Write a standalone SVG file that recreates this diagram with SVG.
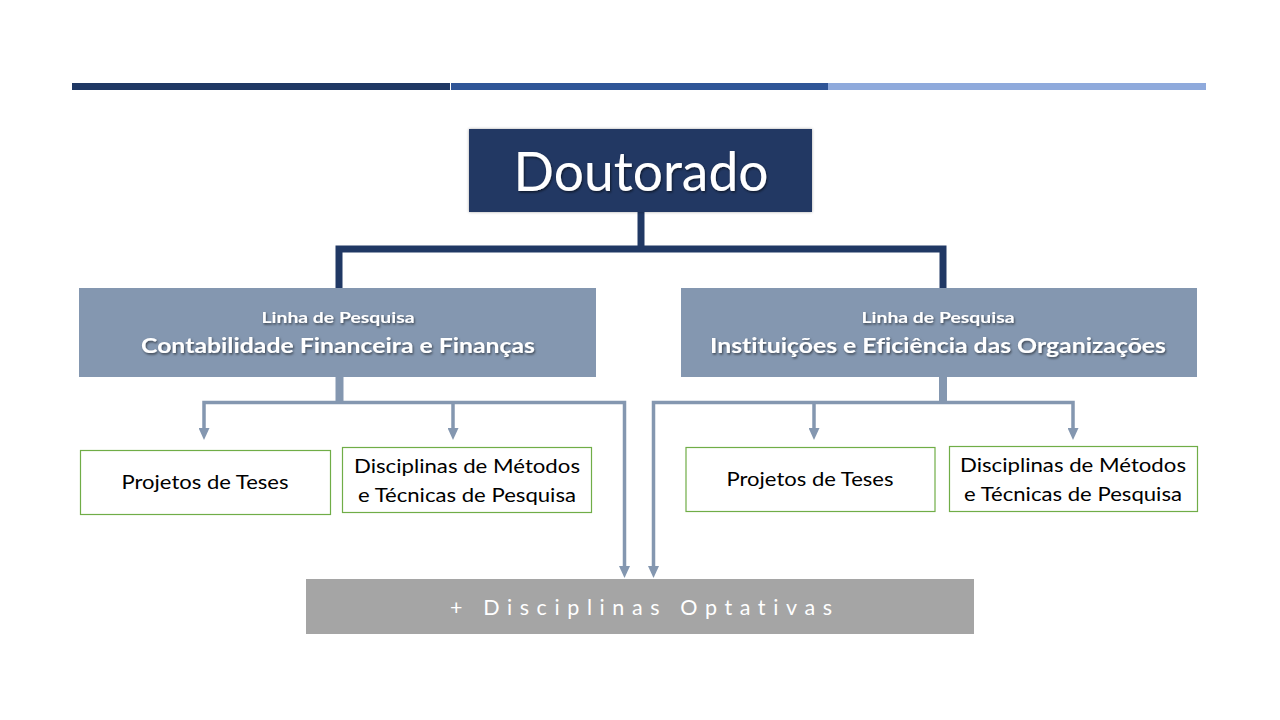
<svg xmlns="http://www.w3.org/2000/svg" width="1280" height="720" viewBox="0 0 1280 720">
  <defs>
    <filter id="tshadow" x="-10%" y="-30%" width="120%" height="160%">
      <feDropShadow dx="1" dy="1.5" stdDeviation="0.8" flood-color="#000" flood-opacity="0.55"/>
    </filter>
    <filter id="bshadow" x="-5%" y="-10%" width="110%" height="120%">
      <feDropShadow dx="0" dy="0" stdDeviation="1.5" flood-color="#000" flood-opacity="0.35"/>
    </filter>
    <marker id="arr" markerUnits="userSpaceOnUse" markerWidth="12" markerHeight="11" viewBox="0 0 12 11" refX="4" refY="5.5" orient="auto-start-reverse">
      <path d="M0,0 L12,5.5 L0,11 Z" fill="#8497B0"/>
    </marker>
  </defs>
  <style>
    .dark { fill: #203864; }
    .linha { fill: #8497B0; }
    .green { fill: #FFFFFF; stroke: #70AD47; stroke-width: 1.2; }
    .t { font-family: Lato, "Open Sans", "Noto Sans", sans-serif; text-anchor: middle; font-variant-ligatures: none; }
    .w { fill: #FFFFFF; }
    .k { fill: #000000; }
    .main { stroke: #203864; stroke-width: 7; fill: none; stroke-linejoin: miter; }
    .stem { stroke: #8497B0; stroke-width: 8; fill: none; }
    .sub { stroke: #8497B0; stroke-width: 3.5; fill: none; stroke-linejoin: miter; }
  </style>

  <rect width="1280" height="720" fill="#FFFFFF"/>

  <g id="topbar">
    <rect x="72" y="83" width="378" height="7" fill="#1F3864"/>
    <rect x="451" y="83" width="377" height="7" fill="#2F5597"/>
    <rect x="828" y="83" width="378" height="7" fill="#8FAADC"/>
  </g>

  <g id="connectors">
    <path class="main" d="M641,212 V249"/>
    <path class="main" d="M339,288 V249 H943 V288"/>
    <path class="stem" d="M339.5,377 V404"/>
    <path class="stem" d="M943,377 V404"/>
    <path class="sub" d="M204,432 V402.5 H624.5 V570" marker-start="url(#arr)" marker-end="url(#arr)"/>
    <path class="sub" d="M453,402.5 V432" marker-end="url(#arr)"/>
    <path class="sub" d="M653.5,570 V402.5 H1073 V432" marker-start="url(#arr)" marker-end="url(#arr)"/>
    <path class="sub" d="M814,402.5 V432" marker-end="url(#arr)"/>
  </g>

  <g id="doutorado">
    <rect class="dark" x="469" y="129" width="343" height="83" filter="url(#bshadow)"/>
    <text class="t w" x="641" y="191" font-size="54" textLength="255" lengthAdjust="spacingAndGlyphs" filter="url(#tshadow)">Doutorado</text>
  </g>

  <g id="linha1">
    <rect class="linha" x="79" y="288" width="517" height="89"/>
    <text class="t w" x="338" y="323" font-size="14.5" font-weight="bold" textLength="153" lengthAdjust="spacingAndGlyphs" filter="url(#tshadow)">Linha de Pesquisa</text>
    <text class="t w" x="338" y="353" font-size="21.5" font-weight="bold" textLength="394" lengthAdjust="spacingAndGlyphs" filter="url(#tshadow)">Contabilidade Financeira e Finanças</text>
  </g>

  <g id="linha2">
    <rect class="linha" x="681" y="288" width="516" height="89"/>
    <text class="t w" x="938" y="323" font-size="14.5" font-weight="bold" textLength="153" lengthAdjust="spacingAndGlyphs" filter="url(#tshadow)">Linha de Pesquisa</text>
    <text class="t w" x="938" y="353" font-size="21.5" font-weight="bold" textLength="456" lengthAdjust="spacingAndGlyphs" filter="url(#tshadow)">Instituições e Eficiência das Organizações</text>
  </g>

  <g id="projetos1">
    <rect class="green" x="80.5" y="450.5" width="250" height="64"/>
    <text class="t k" x="205" y="489" font-size="18.5" textLength="167" lengthAdjust="spacingAndGlyphs">Projetos de Teses</text>
  </g>

  <g id="metodos1">
    <rect class="green" x="342.5" y="447.5" width="249" height="65"/>
    <text class="t k" x="467" y="473" font-size="18.5" textLength="226" lengthAdjust="spacingAndGlyphs">Disciplinas de Métodos</text>
    <text class="t k" x="467" y="502" font-size="18.5" textLength="218" lengthAdjust="spacingAndGlyphs">e Técnicas de Pesquisa</text>
  </g>

  <g id="projetos2">
    <rect class="green" x="686" y="447.5" width="249" height="64"/>
    <text class="t k" x="810" y="486" font-size="18.5" textLength="167" lengthAdjust="spacingAndGlyphs">Projetos de Teses</text>
  </g>

  <g id="metodos2">
    <rect class="green" x="949.5" y="446.5" width="248" height="65"/>
    <text class="t k" x="1073" y="472" font-size="18.5" textLength="226" lengthAdjust="spacingAndGlyphs">Disciplinas de Métodos</text>
    <text class="t k" x="1073" y="501" font-size="18.5" textLength="218" lengthAdjust="spacingAndGlyphs">e Técnicas de Pesquisa</text>
  </g>

  <g id="optativas">
    <rect x="306" y="579" width="668" height="55" fill="#A5A5A5"/>
    <text class="t w" x="641" y="615" font-size="21.5" textLength="382" lengthAdjust="spacing">+  Disciplinas Optativas</text>
  </g>
</svg>
